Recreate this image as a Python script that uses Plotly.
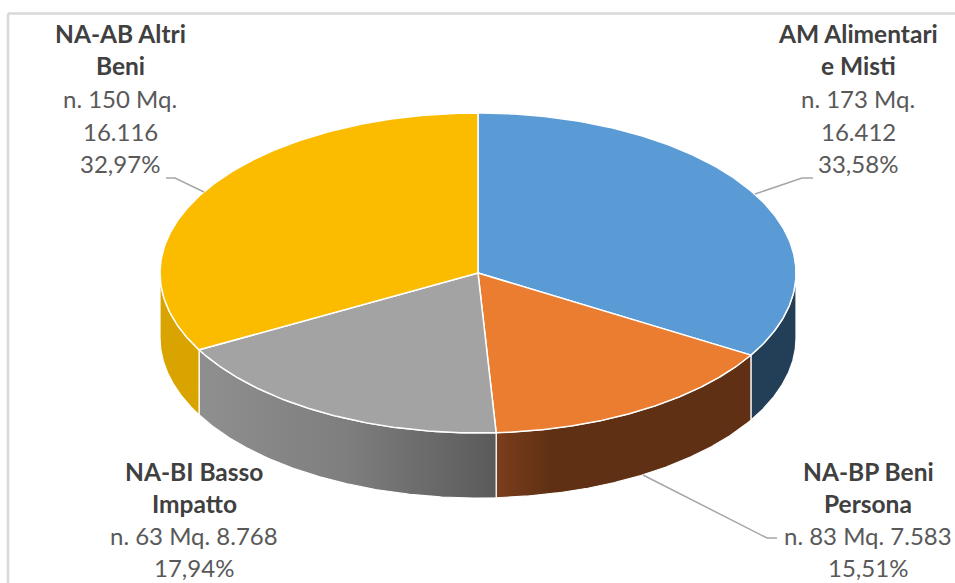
import numpy as np
import plotly.graph_objects as go

categories = ["AM Alimentari e Misti", "NA-BP Beni Persona", "NA-BI Basso Impatto", "NA-AB Altri Beni"]
mq_values = [16412, 7583, 8768, 16116]
top_colors = ["#5B9BD5", "#EA7D30", "#A3A3A3", "#FBBC00"]
side_colors = [
    [[0, "#233F57"], [1, "#233F57"]],
    [[0, "#7A3E1C"], [0.22, "#5F3014"], [1, "#5F3014"]],
    [[0, "#8F8F8F"], [0.5, "#7E7E7E"], [1, "#5A5A5A"]],
    [[0, "#D9A300"], [1, "#D9A300"]],
]
label_lines = [
    ["AM Alimentari", "e Misti", "n. 173 Mq.", "16.412", "33,58%"],
    ["NA-BP Beni", "Persona", "n. 83 Mq. 7.583", "15,51%"],
    ["NA-BI Basso", "Impatto", "n. 63 Mq. 8.768", "17,94%"],
    ["NA-AB Altri", "Beni", "n. 150 Mq.", "16.116", "32,97%"],
]
label_x = [858, 868, 194, 120]
label_y0 = [33, 471, 471, 33]
line_steps = [32.7, 32, 32, 32.7]
bold_lines = 2
leaders = [
    ([755, 802, 813], [194, 178, 178]),
    ([643, 767, 777], [475, 538, 538]),
    None,
    ([204, 175, 166], [192, 178, 178]),
]

CX, CY, RX, RY, DEPTH = 478, 273, 318, 160, 65

fracs = np.array(mq_values) / sum(mq_values)
edges = np.concatenate([[0], np.cumsum(fracs)]) * 2 * np.pi


def rim(a0, a1, n=200):
    t = np.linspace(a0, a1, n)
    return CX + RX * np.sin(t), CY - RY * np.cos(t)


fig = go.Figure()

# extruded sides (only the front half of the rim is visible)
for i in range(len(mq_values)):
    a0 = max(edges[i], np.pi / 2)
    a1 = min(edges[i + 1], 3 * np.pi / 2)
    if a1 <= a0:
        continue
    x, y = rim(a0, a1)
    px = np.concatenate([x, x[::-1], x[:1]])
    py = np.concatenate([y, y[::-1] + DEPTH, y[:1]])
    fig.add_trace(go.Scatter(
        x=px, y=py, mode="lines", fill="toself",
        line=dict(color="white", width=1.2),
        fillgradient=dict(type="horizontal", colorscale=side_colors[i]),
        hoverinfo="skip", showlegend=False,
    ))

# top faces
for i in range(len(mq_values)):
    x, y = rim(edges[i], edges[i + 1])
    fig.add_trace(go.Scatter(
        x=np.concatenate([[CX], x, [CX]]), y=np.concatenate([[CY], y, [CY]]),
        mode="lines", fill="toself", fillcolor=top_colors[i],
        line=dict(color="white", width=1.5),
        name=categories[i], showlegend=False,
    ))

# leader lines
for leader in leaders:
    if leader is None:
        continue
    fig.add_trace(go.Scatter(
        x=leader[0], y=leader[1], mode="lines",
        line=dict(color="#A6A6A6", width=1.5),
        hoverinfo="skip", showlegend=False,
    ))

# labels
for lines, lx, ly, step in zip(label_lines, label_x, label_y0, line_steps):
    for j, line in enumerate(lines):
        bold = j < bold_lines
        fig.add_annotation(
            x=lx, y=ly + j * step, text=f"<b>{line}</b>" if bold else line,
            showarrow=False, xanchor="center", yanchor="middle",
            font=dict(family="Lato", size=24.5 if bold else 24, color="#404040" if bold else "#595959"),
        )

# chart frame
fig.add_shape(type="line", x0=8, x1=955, y0=13.5, y1=13.5, line=dict(color="#D9D9D9", width=2.5))
fig.add_shape(type="line", x0=8, x1=8, y0=13.5, y1=583, line=dict(color="#D9D9D9", width=2.5))

fig.update_layout(
    width=955, height=583,
    margin=dict(l=0, r=0, t=0, b=0),
    paper_bgcolor="white", plot_bgcolor="white",
    xaxis=dict(range=[0, 955], visible=False, fixedrange=True),
    yaxis=dict(range=[583, 0], visible=False, fixedrange=True),
)
fig.write_html(
    "out.html",
    config={"displayModeBar": False},
    post_script="document.documentElement.style.margin='0';document.body.style.margin='0';document.body.style.overflow='hidden';",
)
